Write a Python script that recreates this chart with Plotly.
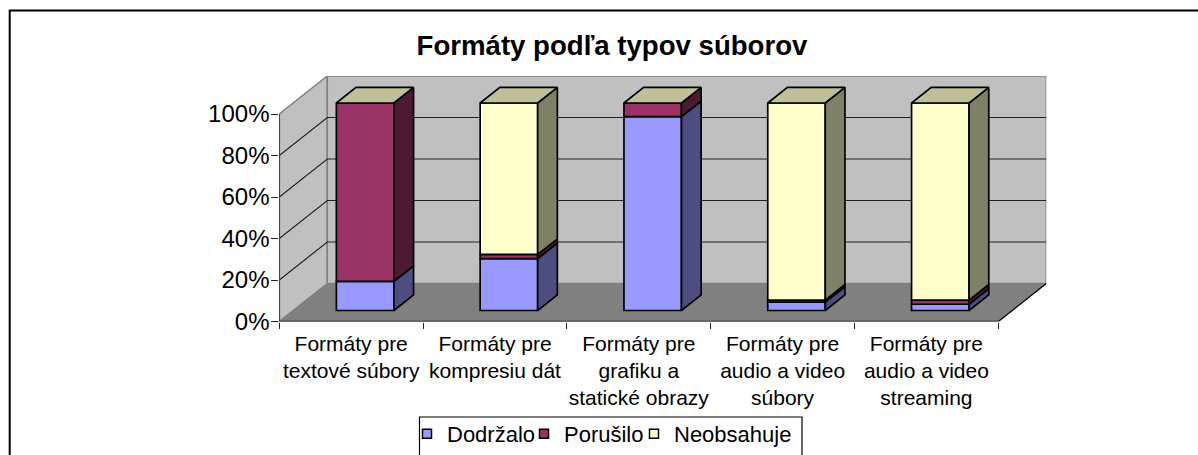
import plotly.graph_objects as go

categories = ["Formáty pre<br>textové súbory", "Formáty pre<br>kompresiu dát",
              "Formáty pre<br>grafiku a<br>statické obrazy",
              "Formáty pre<br>audio a video<br>súbory", "Formáty pre<br>audio a video<br>streaming"]
dodrzalo = [14, 25, 93.4, 4, 3]
porusilo = [86, 2, 6.6, 1, 2]
neobsahuje = [0, 73, 0, 95, 95]
y_ticks = [0, 20, 40, 60, 80, 100]
y_labels = ["0%", "20%", "40%", "60%", "80%", "100%"]
title_text = "Formáty podľa typov súborov"

W, H = 1198, 455
X0, X1 = 279.3, 998.3      # front plane, px
Y0, Y100 = 321.5, 114.0
DX, DY = 48.0, 38.0        # depth of the box, px
ux = (X1 - X0) / 5
uy = (Y0 - Y100) / 100
depth_x = DX / ux
depth_y = DY / uy
F0, F1 = 0.29, 0.70
BAR_W = 0.40
INK = "#000000"


def pt(x, y, f):
    return x + f * depth_x, y + f * depth_y


def px(x): return x / W
def py(y): return 1 - y / H


shapes = []


def poly(points, fill, line=None, width=1.5):
    path = "M" + "L".join(f"{a},{b}" for a, b in points) + "Z"
    shapes.append(dict(type="path", path=path, xref="x", yref="y", layer="below",
                       fillcolor=fill, line=dict(color=line or fill, width=width)))


GRAY = "#808080"
poly([pt(0, 0, 0), pt(0, 100, 0), pt(0, 100, 1), pt(0, 0, 1)], "#C0C0C0", GRAY, 1.5)
poly([pt(0, 0, 1), pt(0, 100, 1), pt(5, 100, 1), pt(5, 0, 1)], "#C0C0C0", GRAY, 1.5)
poly([pt(0, 0, 0), pt(5, 0, 0), pt(5, 0, 1), pt(0, 0, 1)], "#808080", GRAY, 1)
for t in y_ticks[1:-1]:
    a, b, c = pt(0, t, 0), pt(0, t, 1), pt(5, t, 1)
    shapes.append(dict(type="path", path=f"M{a[0]},{a[1]}L{b[0]},{b[1]}L{c[0]},{c[1]}",
                       xref="x", yref="y", layer="below", line=dict(color="#222222", width=1.2)))
a, b = pt(5, 0, 0), pt(5, 0, 1)
shapes.append(dict(type="line", x0=a[0], y0=a[1], x1=b[0], y1=b[1], xref="x", yref="y",
                   layer="below", line=dict(color="#000000", width=1.2)))
shapes.append(dict(type="line", x0=0, y0=0, x1=5, y1=0, xref="x", yref="y", layer="below",
                   line=dict(color="#222222", width=1.5)))
shapes.append(dict(type="line", x0=0, y0=0, x1=0, y1=100, xref="x", yref="y", layer="below",
                   line=dict(color="#222222", width=1.5)))

# chart-area frame (runs off the page on the right and bottom)
shapes.append(dict(type="rect", xref="paper", yref="paper", x0=px(9.7), x1=px(W + 20),
                   y0=py(H + 20), y1=py(10.5), line=dict(color="#000000", width=2), layer="below"))
# legend frame
shapes.append(dict(type="rect", xref="paper", yref="paper", x0=px(419.5), x1=px(802),
                   y0=py(H + 20), y1=py(417), line=dict(color="#000000", width=1.2),
                   fillcolor="white", layer="below"))

series = [("Dodržalo", dodrzalo, "#9999FF", "#4D4D80", 75),
          ("Porušilo", porusilo, "#993366", "#4D1A33", 68),
          ("Neobsahuje", neobsahuje, "#FFFFCC", "#808066", 130)]
fig = go.Figure()
centers = [i + 0.5 for i in range(len(categories))]
bottoms = [0] * len(categories)
side_traces = []
for name, vals, color, dark, lw in series:
    fig.add_trace(go.Bar(x=[c + F0 * depth_x for c in centers], y=vals,
                         base=[b + F0 * depth_y for b in bottoms], width=BAR_W,
                         marker=dict(color=color, line=dict(color=INK, width=1.7)),
                         name=name, showlegend=False))
    xs, ys = [], []
    for c, b, v in zip(centers, bottoms, vals):
        if v <= 0:
            continue
        r = c + BAR_W / 2
        for p in (pt(r, b, F0), pt(r, b + v, F0), pt(r, b + v, F1), pt(r, b, F1), pt(r, b, F0)):
            xs.append(p[0]); ys.append(p[1])
        xs.append(None); ys.append(None)
    side_traces.append(go.Scatter(x=xs, y=ys, mode="lines", fill="toself", fillcolor=dark,
                                  line=dict(color=INK, width=1.7), showlegend=False, hoverinfo="skip"))
    bottoms = [b + v for b, v in zip(bottoms, vals)]

for tr in side_traces:
    fig.add_trace(tr)

xs, ys = [], []
for c, b in zip(centers, bottoms):
    l, r = c - BAR_W / 2, c + BAR_W / 2
    for p in (pt(l, b, F0), pt(r, b, F0), pt(r, b, F1), pt(l, b, F1), pt(l, b, F0)):
        xs.append(p[0]); ys.append(p[1])
    xs.append(None); ys.append(None)
fig.add_trace(go.Scatter(x=xs, y=ys, mode="lines", fill="toself", fillcolor="#BFBF99",
                         line=dict(color=INK, width=1.7), showlegend=False, hoverinfo="skip"))

for name, vals, color, dark, lw in series:
    fig.add_trace(go.Scatter(x=[None], y=[None], mode="markers", name=name, legendwidth=lw,
                             marker=dict(symbol="square", size=9, color=color,
                                         line=dict(color=INK, width=1.5))))

FONT = "Liberation Sans, Arial, sans-serif"
fig.update_layout(
    width=W, height=H, autosize=False, margin=dict(l=0, r=0, t=0, b=0, autoexpand=False),
    paper_bgcolor="white", plot_bgcolor="rgba(0,0,0,0)", barmode="overlay", shapes=shapes,
    font=dict(family=FONT, color="#000000"),
    title=dict(text=title_text, x=612 / W, xanchor="center", y=py(45), yanchor="middle",
               font=dict(size=27.6, family=FONT, weight="bold", color="#000000")),
    xaxis=dict(domain=[px(X0), px(X1 + DX)], range=[0, 5 + depth_x], showgrid=False, zeroline=False,
               showline=False, tickmode="array", tickvals=centers, ticktext=categories,
               ticks="outside", ticklen=9, tickcolor="rgba(0,0,0,0)", tickangle=0, ticklabelstandoff=-6,
               tickfont=dict(size=21, family=FONT),
               minor=dict(tickmode="array", tickvals=list(range(6)), ticks="outside", ticklen=6,
                          tickcolor="#222222", tickwidth=1.2, showgrid=False)),
    yaxis=dict(domain=[py(Y0), py(Y0 - 100 * uy - DY)], range=[0, 100 + depth_y], showgrid=False,
               zeroline=False, showline=False, tickmode="array", tickvals=y_ticks, ticktext=y_labels,
               ticks="outside", ticklen=7, tickcolor="#222222", tickwidth=1.2, ticklabelstandoff=-3,
               tickfont=dict(size=24, family=FONT)),
    legend=dict(orientation="h", x=px(410), xanchor="left",
                y=py(413), yanchor="top", bgcolor="rgba(0,0,0,0)", font=dict(size=22, family=FONT),
                itemwidth=30, indentation=-3, tracegroupgap=0),
)
fig.write_html("out.html", config={"displayModeBar": False},
               post_script="document.body.style.margin='0';document.documentElement.style.overflow='hidden';")
